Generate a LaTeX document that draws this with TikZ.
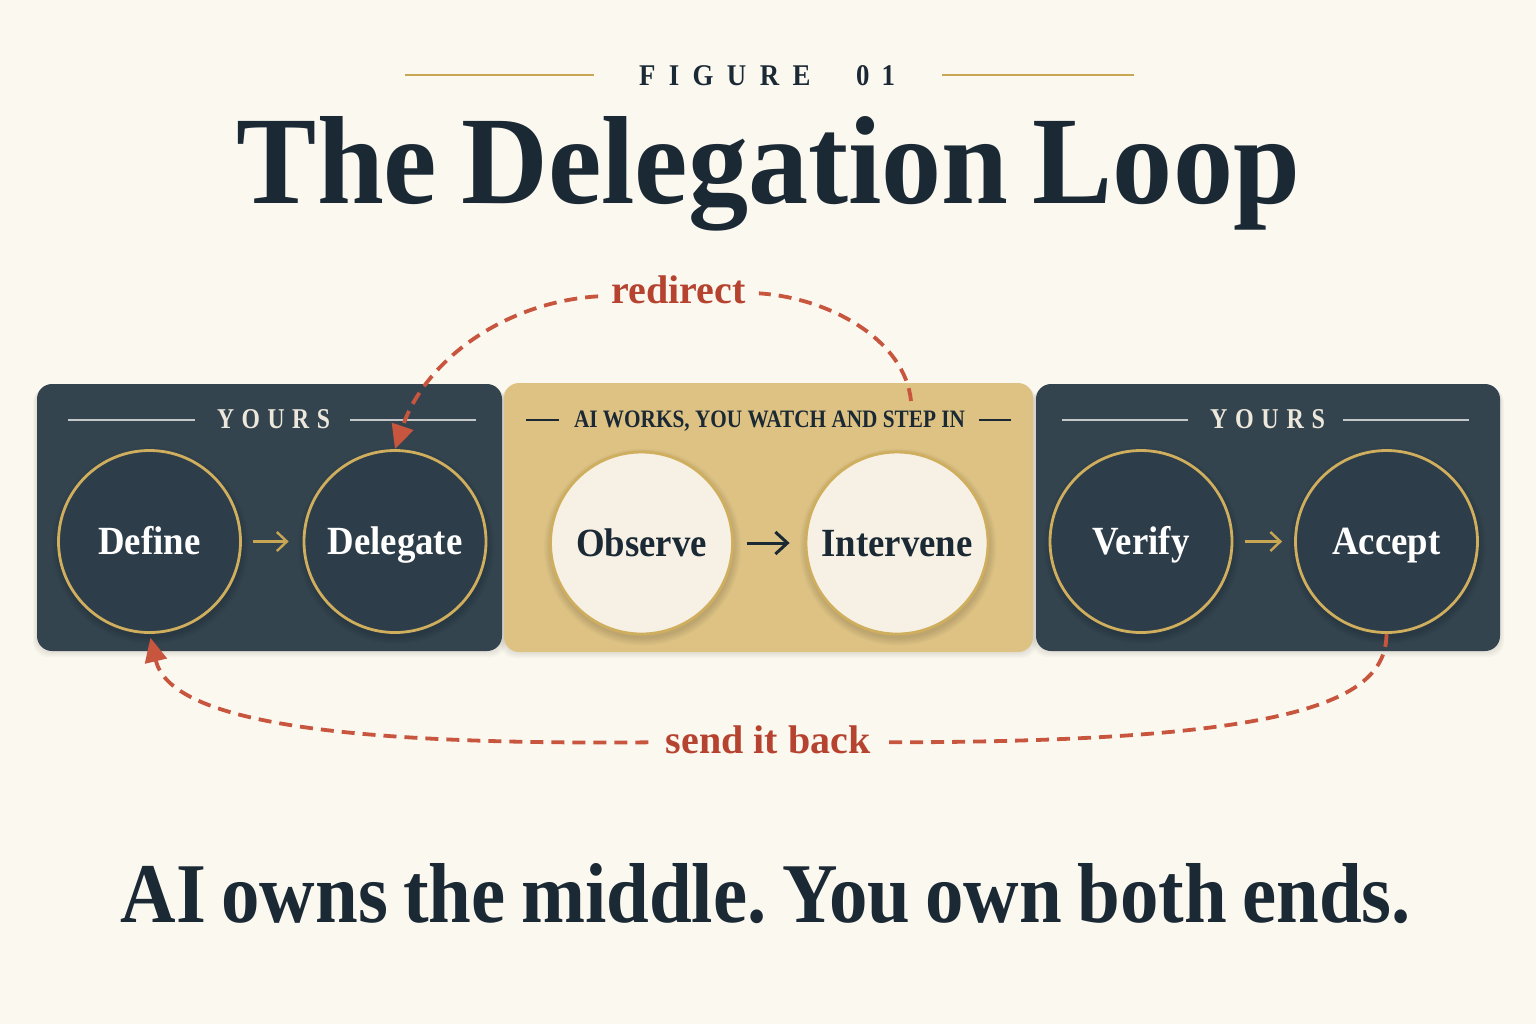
\documentclass[tikz,border=0pt]{standalone}
\usepackage{fontspec}
\setmainfont{Liberation Serif}
\newfontfamily\condfont[FakeStretch=0.92]{Liberation Serif}
\usetikzlibrary{arrows.meta}
\definecolor{bg}{HTML}{FBF8F0}
\definecolor{navy}{HTML}{1B2935}
\definecolor{paneldark}{HTML}{34444F}
\definecolor{circdark}{HTML}{2D3D49}
\definecolor{gold}{HTML}{C9A654}
\definecolor{goldring}{HTML}{CFAE5E}
\definecolor{goldpanel}{HTML}{DDC283}
\definecolor{cream}{HTML}{F6F1E4}
\definecolor{loopred}{HTML}{C8553D}
\definecolor{labelred}{HTML}{B5432F}
\definecolor{yourstext}{HTML}{EEE8DC}
\definecolor{yoursline}{HTML}{C5C8C8}
\tikzset{
  darkcirc/.style={circle, draw=goldring, line width=1.4pt, fill=circdark, minimum size=91pt, inner sep=0pt,
    text=white, font={\condfont\fontsize{20pt}{24pt}\selectfont\bfseries}, text height=13.4pt, text depth=0pt},
  lightcirc/.style={darkcirc, fill=cream, text=navy},
  goldarrow/.style={draw=gold, line width=1.2pt, -{Straight Barb[length=5pt,width=9.5pt]}},
  navyarrow/.style={draw=navy, line width=1.5pt, -{Straight Barb[length=6pt,width=11pt]}},
  loopline/.style={draw=loopred, line width=1.9pt, dash pattern=on 6.5pt off 4pt},
  looptip/.style={-{Triangle[length=12pt,width=11pt]}},
  looplabel/.style={text=labelred, font={\fontsize{20pt}{24pt}\selectfont\bfseries}, anchor=base},
  yoursrule/.style={draw=yoursline, line width=0.9pt},
  headrule/.style={draw=gold, line width=1.4pt},
  midrule/.style={draw=navy, line width=1pt},
  panelshape/.style={rounded corners=7.5pt}
}
\begin{document}
\frenchspacing
\begin{tikzpicture}[x=0.5pt,y=-0.5pt]
\useasboundingbox (0,0) rectangle (1536,1024);
\fill[bg] (0,0) rectangle (1536,1024);

% header
\draw[headrule] (405,75) -- (594,75);
\draw[headrule] (942,75) -- (1134,75);
\node[anchor=base, text=navy, inner sep=0pt] (fig) at (767,85)
  {\resizebox{128pt}{10pt}{\bfseries F\hspace{.5em}I\hspace{.5em}G\hspace{.5em}U\hspace{.5em}R\hspace{.5em}E\hspace{1.7em}0\hspace{.45em}1}};
\node[anchor=base, text=navy, inner sep=0pt] (title) at (768.5,203)
  {\resizebox{531.5pt}{43.5pt}{\bfseries\spaceskip=0.2em The Delegation Loop}};

% panel shadows
\foreach \i in {1,...,4}{
  \fill[black, opacity=0.025, panelshape] (37-\i,384+\i) rectangle (502+\i,651+\i*1.5);
  \fill[black, opacity=0.025, panelshape] (504-\i,383+\i) rectangle (1033+\i,652+\i*1.5);
  \fill[black, opacity=0.025, panelshape] (1036-\i,384+\i) rectangle (1500+\i,651+\i*1.5);
}
% panels
\fill[paneldark, panelshape] (37,384) rectangle (502,651);
\fill[goldpanel, panelshape] (504,383) rectangle (1033,652);
\fill[paneldark, panelshape] (1036,384) rectangle (1500,651);

% panel headers
\draw[yoursrule] (68,420) -- (195,420);
\draw[yoursrule] (350,420) -- (476,420);
\node[anchor=base, text=yourstext, inner sep=0pt] (yours1) at (273.5,428)
  {\resizebox{56.5pt}{9.5pt}{\bfseries Y\hspace{.32em}O\hspace{.32em}U\hspace{.32em}R\hspace{.32em}S}};
\draw[yoursrule] (1062,420) -- (1188,420);
\draw[yoursrule] (1343,420) -- (1469,420);
\node[anchor=base, text=yourstext, inner sep=0pt] (yours2) at (1267.5,428)
  {\resizebox{57.5pt}{9.5pt}{\bfseries Y\hspace{.32em}O\hspace{.32em}U\hspace{.32em}R\hspace{.32em}S}};
\draw[midrule] (526,420) -- (559,420);
\draw[midrule] (979,420) -- (1011,420);
\node[anchor=base, text=navy, inner sep=0pt] (aiworks) at (769.5,427)
  {\resizebox{195.5pt}{8.3pt}{\bfseries AI WORKS, YOU WATCH AND STEP IN}};

% circle shadows
\foreach \cx/\cy in {149.5/541.5, 395/541.5, 641.5/543, 897/543, 1141/541.5, 1386.5/541.5}{
  \foreach \i in {1,...,6}{
    \fill[black, opacity=0.022] (\cx+1,\cy+4) circle ({90+\i*1.4});
  }
}

% circles
\node[darkcirc] (define) at (149.5,541.5) {Define};
\node[darkcirc] (delegate) at (395,541.5) {Delegate};
\node[lightcirc] (observe) at (641.5,543) {Observe};
\node[lightcirc] (intervene) at (897,543) {Intervene};
\node[darkcirc] (verify) at (1141,541.5) {Verify};
\node[darkcirc] (accept) at (1386.5,541.5) {Accept};

% step arrows
\draw[goldarrow, shorten <=5.75pt, shorten >=7pt] (define) -- (delegate);
\draw[navyarrow, shorten <=6.5pt, shorten >=7.5pt] (observe) -- (intervene);
\draw[goldarrow, shorten <=6pt, shorten >=6pt] (verify) -- (accept);

% redirect loop
\coordinate (rstart) at (911,401);
\node[looplabel, inner xsep=6.5pt] (redirect) at (678.5,303) {redirect};
\draw[loopline] (rstart) .. controls (905,340) and (830,298) .. ([yshift=-2pt]redirect.east);
\draw[loopline, looptip] ([yshift=-3.5pt]redirect.west) .. controls (505,302) and (425,360) .. (delegate.north);

% send it back loop
\node[looplabel, inner xsep=8.5pt] (sendback) at (768,753) {send it back};
\draw[loopline] (accept.south) .. controls (1386,700) and (1300,742) .. ([yshift=-1.5pt]sendback.east);
\draw[loopline, looptip, shorten >=2pt] ([yshift=-1.5pt]sendback.west) .. controls (330,745) and (170,720) .. (define.south);

% bottom statement
\node[anchor=base, text=navy, inner sep=0pt] (statement) at (766,922)
  {\resizebox{645pt}{29.5pt}{\bfseries\spaceskip=0.2em AI owns the middle. You own both ends.}};
\end{tikzpicture}
\end{document}
